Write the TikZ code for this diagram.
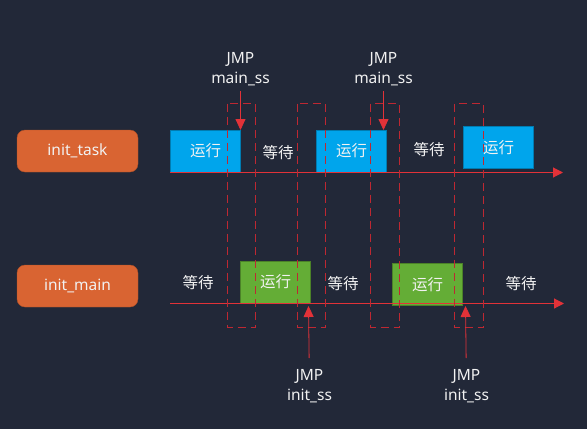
\documentclass[tikz,border=0pt]{standalone}
\usepackage{fontspec}
\setmainfont{Noto Sans}
\newfontfamily\cjk{Noto Sans CJK SC}
\usetikzlibrary{
  arrows.meta,
  positioning
}
\definecolor{bgcolor}{RGB}{34, 40, 56}
\definecolor{taskcolor}{RGB}{217, 100, 50}
\definecolor{runcolor}{RGB}{0, 165, 236}
\definecolor{maincolor}{RGB}{100, 173, 54}
\definecolor{linecolor}{RGB}{226, 50, 56}
\definecolor{framecolor}{RGB}{190, 40, 50}
\definecolor{labelcolor}{RGB}{242, 242, 242}
\tikzset{
blocktext/.style={
  align=center,
  font=\fontsize{15.5}{20}\selectfont,
  text=labelcolor
},
taskblock/.style={
  draw=taskcolor!80!black,
  rounded corners=8pt,
  fill=taskcolor,
  minimum height=42pt,
  minimum width=121pt,
  inner sep=0pt,
  blocktext
},
runblock/.style={
  draw=runcolor!75!black,
  fill=runcolor,
  minimum height=42pt,
  minimum width=70pt,
  inner sep=0pt,
  blocktext
},
mainblock/.style={
  runblock,
  draw=maincolor!75!black,
  fill=maincolor
},
waitlabel/.style={
  blocktext,
  inner sep=0pt
},
jmplabel/.style={
  blocktext,
  inner sep=0pt
},
timeline/.style={
  -{Triangle[length=10pt,width=10pt]},
  line width=1.1pt,
  draw=linecolor
},
jmparrow/.style={
  -{Triangle[length=11pt,width=10pt]},
  line width=0.8pt,
  draw=linecolor
},
switchframe/.style={
  draw=framecolor,
  dash pattern=on 8pt off 5pt,
  line width=1.1pt
}
}
\begin{document}
\begin{tikzpicture}[x=1pt, y=-1pt]
        \fill[bgcolor] (0, 0) rectangle (587, 429);
        \useasboundingbox (0, 0) rectangle (587, 429);

        % task names
        \node[taskblock] (inittask) at (77.5, 151) {init\_task};
        \node[taskblock] (initmain) at (77.5, 286) {init\_main};

        % init_task row
        \node[runblock] (taskrunA) at (205.5, 151) {\cjk 运行};
        \node[waitlabel] (taskwaitA) at (278, 153) {\cjk 等待};
        \node[runblock] (taskrunB) at (351.5, 151) {\cjk 运行};
        \node[waitlabel] (taskwaitB) at (429, 150) {\cjk 等待};
        \node[runblock] (taskrunC) at (498.5, 147.5) {\cjk 运行};
        \coordinate (taskstart) at (170, 172.5);
        \coordinate (taskend) at (563, 172.5);
        \draw[timeline] (taskstart) -- (taskend);

        % init_main row
        \node[waitlabel] (mainwaitA) at (198, 283) {\cjk 等待};
        \node[mainblock] (mainrunA) at (275.5, 282) {\cjk 运行};
        \node[waitlabel] (mainwaitB) at (343, 284) {\cjk 等待};
        \node[mainblock] (mainrunB) at (427.5, 284.5) {\cjk 运行};
        \node[waitlabel] (mainwaitC) at (521, 284) {\cjk 等待};
        \coordinate (mainstart) at (170, 303.5);
        \coordinate (mainend) at (564, 303.5);
        \draw[timeline] (mainstart) -- (mainend);

        % switch windows
        \draw[switchframe] (227.5, 103.5) rectangle (255.5, 327.5);
        \draw[switchframe] (297.5, 103.5) rectangle (325.5, 327.5);
        \draw[switchframe] (370.5, 103.5) rectangle (399.5, 327.5);
        \draw[switchframe] (454.5, 103.5) rectangle (483.5, 327.5);

        % JMP main_ss
        \node[jmplabel, anchor=south] (jmptaskA) at (240.5, 86) {JMP\\main\_ss};
        \coordinate (tiptaskA) at (240.5, 130);
        \draw[jmparrow, shorten <=5pt] (jmptaskA) -- (tiptaskA);
        \node[jmplabel, anchor=south] (jmptaskB) at (383.5, 86) {JMP\\main\_ss};
        \coordinate (tiptaskB) at (383.5, 130);
        \draw[jmparrow, shorten <=5pt] (jmptaskB) -- (tiptaskB);

        % JMP init_ss
        \node[jmplabel, anchor=north] (jmpmainA) at (309.5, 369) {JMP\\init\_ss};
        \coordinate (tipmainA) at (308.5, 306);
        \draw[jmparrow, shorten <=11pt] (jmpmainA) -- (tipmainA);
        \node[jmplabel, anchor=north] (jmpmainB) at (466.5, 369) {JMP\\init\_ss};
        \coordinate (tipmainB) at (465.5, 306);
        \draw[jmparrow, shorten <=11pt] (jmpmainB) -- (tipmainB);
      \end{tikzpicture}
\end{document}
